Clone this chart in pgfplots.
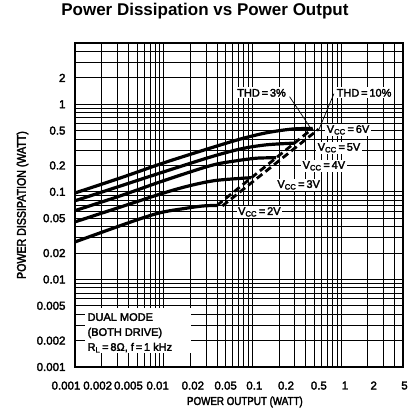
\documentclass[border=0pt]{standalone}
\usepackage{fontspec}
\setmainfont{Liberation Sans}
\newfontfamily\lbl[FakeBold=2.5]{Liberation Sans}
\newfontfamily\cond[FakeStretch=0.85,FakeBold=2.5]{Liberation Sans}
\usepackage{pgfplots}
\pgfplotsset{compat=1.18}

\begin{document}
\begin{tikzpicture}
\useasboundingbox (-75pt,-46pt) rectangle (334pt,367pt);
\begin{loglogaxis}[
    scale only axis,
    width=328pt, height=324pt,
    xmin=0.001, xmax=5, ymin=0.001, ymax=5,
    xtick={0.001,0.002,0.005,0.01,0.02,0.05,0.1,0.2,0.5,1,2,5},
    xticklabels={{\hspace*{-18pt}0.001},{\hspace*{-8pt}0.002},{\hspace*{-17pt}0.005},
        {\hspace*{-12pt}0.01},{\hspace*{5pt}0.02},0.05,{\hspace*{4pt}0.1},
        {\hspace*{14pt}0.2},{\hspace*{9pt}0.5},{\hspace*{8pt}1},{\hspace*{12pt}2},{\hspace*{3pt}5}},
    ytick={0.001,0.002,0.005,0.01,0.02,0.05,0.1,0.2,0.5,1,2},
    yticklabels={0.001,0.002,0.005,0.01,0.02,0.05,0.1,0.2,0.5,1,2},
    minor xtick={0.003,0.004,0.006,0.007,0.008,0.009,
        0.03,0.04,0.06,0.07,0.08,0.09,
        0.3,0.4,0.6,0.7,0.8,0.9,3,4},
    minor ytick={0.003,0.004,0.006,0.007,0.008,0.009,
        0.03,0.04,0.06,0.07,0.08,0.09,
        0.3,0.4,0.6,0.7,0.8,0.9,3,4},
    grid=both,
    major grid style={black, line width=0.85pt},
    minor grid style={black, line width=0.85pt},
    major tick length=0pt, minor tick length=0pt,
    axis line style={line width=1.1pt},
    tick label style={font=\lbl\fontsize{11.5}{13}\selectfont},
    xticklabel style={yshift=-11pt},
    yticklabel style={xshift=-6pt},
    xlabel={POWER OUTPUT (WATT)},
    ylabel={POWER DISSIPATION (WATT)},
    xlabel style={font=\cond\fontsize{11.5}{13}\selectfont,
        at={(axis description cs:0.518,-0.108)}, anchor=center},
    ylabel style={font=\cond\fontsize{12.5}{14}\selectfont,
        at={(axis description cs:-0.16,0.5)}, anchor=center},
    title={Power Dissipation vs Power Output},
    title style={font=\bfseries\fontsize{17}{20}\selectfont,
        at={(axis description cs:0.396,1.08)}, anchor=center},
]
% Vcc = 6V
\addplot[black, line width=3.2pt, smooth] coordinates {
    (0.001,0.097) (0.00325,0.144) (0.01,0.214) (0.0343,0.318)
    (0.075,0.403) (0.144,0.472) (0.277,0.52) (0.48,0.53)};
% Vcc = 5V
\addplot[black, line width=3.2pt, smooth] coordinates {
    (0.001,0.079) (0.00325,0.1165) (0.01,0.169) (0.0343,0.251)
    (0.075,0.31) (0.144,0.344) (0.30,0.36)};
% Vcc = 4V
\addplot[black, line width=3.2pt, smooth] coordinates {
    (0.001,0.061) (0.00325,0.09) (0.01,0.134) (0.0343,0.2)
    (0.0658,0.226) (0.111,0.242) (0.185,0.245)};
% Vcc = 3V
\addplot[black, line width=3.2pt, smooth] coordinates {
    (0.001,0.0454) (0.00325,0.067) (0.01,0.097) (0.02,0.118)
    (0.039,0.135) (0.097,0.145)};
% Vcc = 2V
\addplot[black, line width=3.2pt, smooth] coordinates {
    (0.001,0.0268) (0.0046,0.0465) (0.0093,0.058) (0.018,0.065)
    (0.028,0.069) (0.040,0.070)};
% THD = 3% and THD = 10%
\addplot[black, line width=2.8pt, dash pattern=on 7pt off 4pt] coordinates {
    (0.040,0.070) (0.48,0.53)};
\addplot[black, line width=2.8pt, dash pattern=on 7pt off 4pt] coordinates {
    (0.046,0.069) (0.56,0.52)};

\draw[line width=0.7pt] (axis cs:0.263,1.22) -- (axis cs:0.468,0.511);
\draw[line width=0.7pt] (axis cs:0.832,1.32) -- (axis cs:0.562,0.511);

\begin{scope}[every node/.style={fill=white, inner sep=1.5pt, font=\lbl\fontsize{11}{13}\selectfont}]
\node at (axis cs:0.127,1.35) {THD\,=\,3\%};
\node at (axis cs:1.82,1.35) {THD\,=\,10\%};
\node at (axis cs:1.20,0.51) {V\textsubscript{CC}\,=\,6V};
\node at (axis cs:0.949,0.318) {V\textsubscript{CC}\,=\,5V};
\node at (axis cs:0.641,0.198) {V\textsubscript{CC}\,=\,4V};
\node at (axis cs:0.333,0.120) {V\textsubscript{CC}\,=\,3V};
\node at (axis cs:0.120,0.059) {V\textsubscript{CC}\,=\,2V};
\end{scope}

\fill[white] (axis cs:0.0013,0.00145) rectangle (axis cs:0.0201,0.0047);
\node[anchor=north west, align=left, inner sep=0pt, font=\lbl\fontsize{11}{15}\selectfont]
    at (axis cs:0.00138,0.00414)
    {DUAL MODE\\(BOTH DRIVE)\\R\textsubscript{L}\,=\,8Ω, f\,=\,1 kHz};
\end{loglogaxis}
\end{tikzpicture}
\end{document}
